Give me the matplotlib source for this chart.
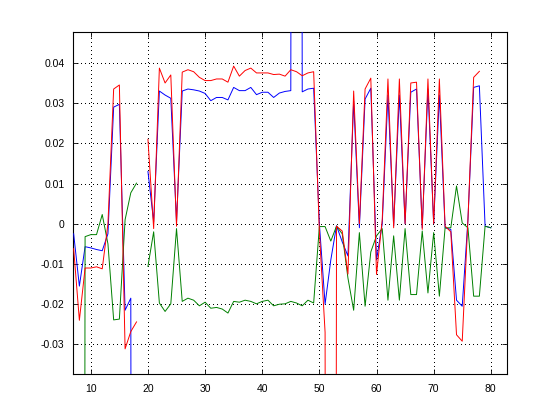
import numpy as np
import matplotlib
matplotlib.use("Agg")
import matplotlib.pyplot as plt

nan = np.nan

x = list(range(7, 81))

red = [-0.0062, -0.0240, -0.0110, -0.0110, -0.0107, -0.0112, 0.0000, 0.0335, 0.0345, -0.0311,
       -0.0268, -0.0244, nan, 0.0210, -0.0012, 0.0387, 0.0350, 0.0370, -0.0006, 0.0377,
       0.0383, 0.0378, 0.0364, 0.0356, 0.0356, 0.0360, 0.0360, 0.0352, 0.0392, 0.0367,
       0.0381, 0.0387, 0.0375, 0.0375, 0.0375, 0.0371, 0.0372, 0.0367, 0.0383, 0.0378,
       0.0368, 0.0375, 0.0378, -0.0020, -0.0270, -1.0, -0.0006, -0.0018, -0.0125, 0.0330,
       0.0000, 0.0335, 0.0362, -0.0126, 0.0010, 0.0360, -0.0010, 0.0360, 0.0000, 0.0350,
       0.0352, -0.0014, 0.0360, 0.0000, 0.0360, -0.0006, -0.0020, -0.0276, -0.0292, 0.0010,
       0.0364, 0.0379, nan, nan]

blue = [-0.0025, -0.0155, -0.0057, -0.0060, -0.0064, -0.0067, -0.0025, 0.0290, 0.0297, -0.0215,
        -0.0185, -1.0, nan, 0.0130, 0.0005, 0.0330, 0.0320, 0.0312, 0.0005, 0.0330,
        0.0335, 0.0333, 0.0330, 0.0324, 0.0306, 0.0314, 0.0314, 0.0308, 0.0339, 0.0331,
        0.0331, 0.0339, 0.0321, 0.0327, 0.0327, 0.0314, 0.0325, 0.0329, 0.0331, 1.0,
        0.0328, 0.0335, 0.0337, 0.0000, -0.0200, -0.0090, -0.0005, -0.0045, -0.0080, 0.0305,
        -0.0010, 0.0310, 0.0337, -0.0090, 0.0000, 0.0320, -0.0005, 0.0320, 0.0000, 0.0327,
        0.0335, -0.0010, 0.0335, 0.0000, 0.0320, -0.0010, -0.0014, -0.0190, -0.0205, 0.0010,
        0.0339, 0.0343, -0.0006, -0.0010]

green = [nan, -1.0, -0.0032, -0.0027, -0.0027, 0.0023, -0.0050, -0.0239, -0.0237, 0.0010,
         0.0077, 0.0101, nan, -0.0106, -0.0020, -0.0197, -0.0218, -0.0199, -0.0012, -0.0193,
         -0.0185, -0.0190, -0.0204, -0.0195, -0.0210, -0.0208, -0.0212, -0.0222, -0.0193, -0.0195,
         -0.0190, -0.0193, -0.0199, -0.0193, -0.0190, -0.0204, -0.0200, -0.0199, -0.0193, -0.0197,
         -0.0204, -0.0190, -0.0197, -0.0007, -0.0007, -0.0043, -0.0006, -0.0025, -0.0135, -0.0215,
         -0.0022, -0.0205, -0.0070, -0.0030, -0.0012, -0.0190, -0.0030, -0.0190, -0.0012, -0.0176,
         -0.0176, -0.0018, -0.0172, -0.0022, -0.0180, -0.0010, -0.0010, 0.0094, 0.0002, -0.0010,
         -0.0180, -0.0180, -0.0006, -0.0010]

xticks = [10, 20, 30, 40, 50, 60, 70, 80]
xtick_labels = ["10", "20", "30", "40", "50", "60", "70", "80"]
yticks = [-0.03, -0.02, -0.01, 0.0, 0.01, 0.02, 0.03, 0.04]
ytick_labels = ["-0.03", "-0.02", "-0.01", "0", "0.01", "0.02", "0.03", "0.04"]

plt.rcParams['font.family'] = ['Liberation Sans', 'DejaVu Sans']

fig = plt.figure(figsize=(5.6, 4.2), dpi=100, facecolor='white')
ax = fig.add_axes([0.13, 0.11, 0.775, 0.815])

lw = 0.7
ax.plot(x, blue, color='#0000ff', lw=lw, zorder=3)
ax.plot(x, green, color='#008000', lw=lw, zorder=3)
ax.plot(x, red, color='#ff0000', lw=lw, zorder=4)

ax.set_xlim(6.85, 82.8)
ax.set_ylim(-0.0373, 0.0478)
ax.set_xticks(xticks)
ax.set_xticklabels(xtick_labels)
ax.set_yticks(yticks)
ax.set_yticklabels(ytick_labels)

ax.grid(True, color='black', linestyle=(0, (1, 4)), linewidth=0.6, antialiased=False)
ax.set_axisbelow(True)

ax.tick_params(direction='in', length=3.5, width=0.6, top=True, right=True,
               labelsize=7.5, colors='black')
ax.tick_params(axis='x', pad=7)
ax.tick_params(axis='y', pad=6)
for s in ax.spines.values():
    s.set_linewidth(0.8)
    s.set_color('black')

fig.savefig('out.png', dpi=100, facecolor='white')
